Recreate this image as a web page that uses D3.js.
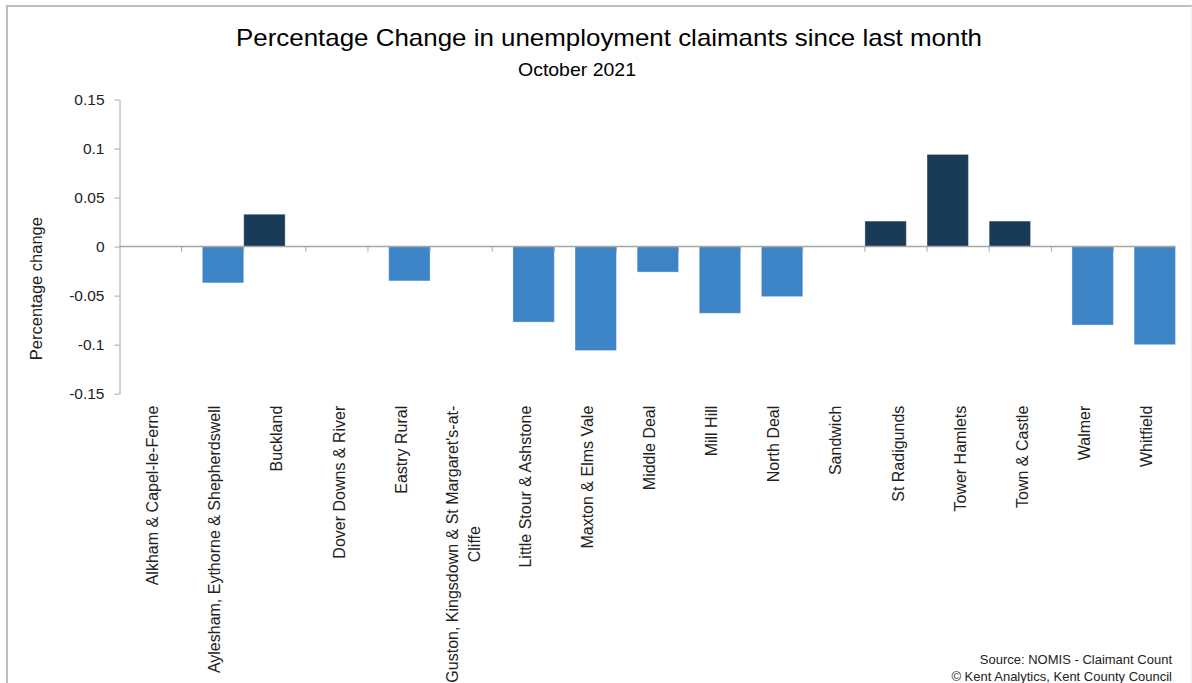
<!DOCTYPE html>
<html>
<head>
<meta charset="utf-8">
<script src="https://cdn.jsdelivr.net/npm/d3@7"></script>
<style>
  body { margin: 0; background: #fff; }
  text { font-family: "Liberation Sans", Arial, sans-serif; }
</style>
</head>
<body>
<div id="chart"></div>
<script>
// wards in Dover district
const categories = [
  "Alkham & Capel-le-Ferne",
  "Aylesham, Eythorne & Shepherdswell",
  "Buckland",
  "Dover Downs & River",
  "Eastry Rural",
  "Guston, Kingsdown & St Margaret's-at-Cliffe",
  "Little Stour & Ashstone",
  "Maxton & Elms Vale",
  "Middle Deal",
  "Mill Hill",
  "North Deal",
  "Sandwich",
  "St Radigunds",
  "Tower Hamlets",
  "Town & Castle",
  "Walmer",
  "Whitfield"
];

// percentage change since last month
const values = [
  0, -0.037, 0.033, 0, -0.035, 0, -0.077, -0.106, -0.026,
  -0.068, -0.051, 0, 0.026, 0.094, 0.026, -0.080, -0.100
];

// label lines as they wrap on the axis
const tickLabels = [
  ["Alkham & Capel-le-Ferne"],
  ["Aylesham, Eythorne & Shepherdswell"],
  ["Buckland"],
  ["Dover Downs & River"],
  ["Eastry Rural"],
  ["Guston, Kingsdown & St Margaret's-at-", "Cliffe"],
  ["Little Stour & Ashstone"],
  ["Maxton & Elms Vale"],
  ["Middle Deal"],
  ["Mill Hill"],
  ["North Deal"],
  ["Sandwich"],
  ["St Radigunds"],
  ["Tower Hamlets"],
  ["Town & Castle"],
  ["Walmer"],
  ["Whitfield"]
];

const series = ["Increase", "Decrease"];
const seriesColors = ["#1a3b57", "#3d84c6"];
const yTicks = [-0.15, -0.1, -0.05, 0, 0.05, 0.1, 0.15];

const width = 1192;
const height = 683;
const margin = { top: 99.5, right: 16.5, bottom: 289.3, left: 119.5 };

const svg = d3.select("#chart")
    .append("svg")
    .attr("width", width)
    .attr("height", height);

// frame
svg.append("path")
    .attr("d", `M7,${height} V6 H${width}`)
    .attr("fill", "none")
    .attr("stroke", "#bdbdbd")
    .attr("stroke-width", 2);
svg.append("line")
    .attr("x1", 1191).attr("x2", 1191)
    .attr("y1", 6).attr("y2", height)
    .attr("stroke", "#ececec");

// scales
const x = d3.scaleBand()
    .domain(categories)
    .range([margin.left, width - margin.right])
    .padding(0);

// bars are 2/3 of a band wide, the two series overlap by half
const barWidth = x.bandwidth() * 2 / 3;
const xSeries = d3.scalePoint()
    .domain(series)
    .range([0, x.bandwidth() / 3]);

const y = d3.scaleLinear()
    .domain([-0.15, 0.15])
    .range([height - margin.bottom, margin.top]);

const color = d3.scaleOrdinal().domain(series).range(seriesColors);

// title
svg.append("text")
    .attr("x", 609)
    .attr("y", 46)
    .attr("text-anchor", "middle")
    .attr("textLength", 746)
    .attr("lengthAdjust", "spacingAndGlyphs")
    .style("font-size", "24px")
    .attr("fill", "#000")
    .text("Percentage Change in unemployment claimants since last month");

svg.append("text")
    .attr("x", 577)
    .attr("y", 76)
    .attr("text-anchor", "middle")
    .attr("textLength", 118)
    .attr("lengthAdjust", "spacingAndGlyphs")
    .style("font-size", "19px")
    .attr("fill", "#000")
    .text("October 2021");

// y axis
const yAxis = svg.append("g")
    .attr("transform", `translate(${margin.left},0)`)
    .call(d3.axisLeft(y)
        .tickValues(yTicks)
        .tickSizeInner(5)
        .tickSizeOuter(0)
        .tickPadding(10)
        .tickFormat(d => String(+d.toFixed(2))));
yAxis.select(".domain").attr("stroke", "#a6a6a6");
yAxis.selectAll(".tick line").attr("stroke", "#a6a6a6");
yAxis.selectAll(".tick text")
    .style("font-size", "15.5px")
    .style("font-family", "'Liberation Sans', Arial, sans-serif")
    .attr("fill", "#222");

svg.append("text")
    .attr("transform", `translate(36,${(y(0.15) + y(-0.15)) / 2 + 42}) rotate(-90)`)
    .attr("text-anchor", "middle")
    .attr("dy", "0.35em")
    .style("font-size", "16.5px")
    .attr("fill", "#222")
    .text("Percentage change");

// bars
svg.append("g")
    .selectAll("rect")
    .data(values.map((v, i) => ({ cat: categories[i], v, s: v >= 0 ? "Increase" : "Decrease" })))
    .enter()
    .append("rect")
    .attr("x", d => x(d.cat) + xSeries(d.s))
    .attr("y", d => y(Math.max(0, d.v)))
    .attr("width", barWidth)
    .attr("height", d => Math.abs(y(d.v) - y(0)))
    .attr("fill", d => color(d.s))
    .attr("stroke", d => d.v === 0 ? "none" : "rgba(255,255,255,0.35)")
    .attr("stroke-width", 1);

// category axis on the zero line, ticks at band boundaries
const zeroY = y(0);
svg.append("line")
    .attr("x1", margin.left).attr("x2", width - margin.right)
    .attr("y1", zeroY).attr("y2", zeroY)
    .attr("stroke", "#a6a6a6")
    .attr("stroke-width", 1.5);
svg.append("g")
    .selectAll("line")
    .data(categories.slice(1))
    .enter()
    .append("line")
    .attr("x1", d => x(d)).attr("x2", d => x(d))
    .attr("y1", zeroY).attr("y2", zeroY + 5)
    .attr("stroke", "#a6a6a6");

// rotated category labels below the plot
const labelTop = y(-0.15) + 12;
const labels = svg.append("g")
    .selectAll("g")
    .data(categories)
    .enter()
    .append("g")
    .attr("transform", d => `translate(${x(d) + x.bandwidth() / 2 + 2},${labelTop}) rotate(-90)`);

labels.each(function(d, i) {
  const g = d3.select(this);
  const lines = tickLabels[i];
  const lineH = 22;
  const first = g.append("text")
      .attr("text-anchor", "end")
      .attr("y", -(lines.length - 1) * lineH / 2)
      .attr("dy", "0.35em")
      .style("font-size", "16px")
      .attr("fill", "#222")
      .text(lines[0]);
  const len = first.node().getComputedTextLength();
  lines.slice(1).forEach((t, j) => {
    g.append("text")
        .attr("text-anchor", "middle")
        .attr("x", -len / 2)
        .attr("y", -(lines.length - 1) * lineH / 2 + (j + 1) * lineH)
        .attr("dy", "0.35em")
        .style("font-size", "16px")
        .attr("fill", "#222")
        .text(t);
  });
});

// source note
const source = svg.append("g")
    .attr("text-anchor", "end")
    .style("font-size", "13px")
    .attr("fill", "#222");
source.append("text").attr("x", 1172).attr("y", 664).text("Source: NOMIS - Claimant Count");
source.append("text").attr("x", 1172).attr("y", 681).text("\u00A9 Kent Analytics, Kent County Council");
</script>
</body>
</html>
